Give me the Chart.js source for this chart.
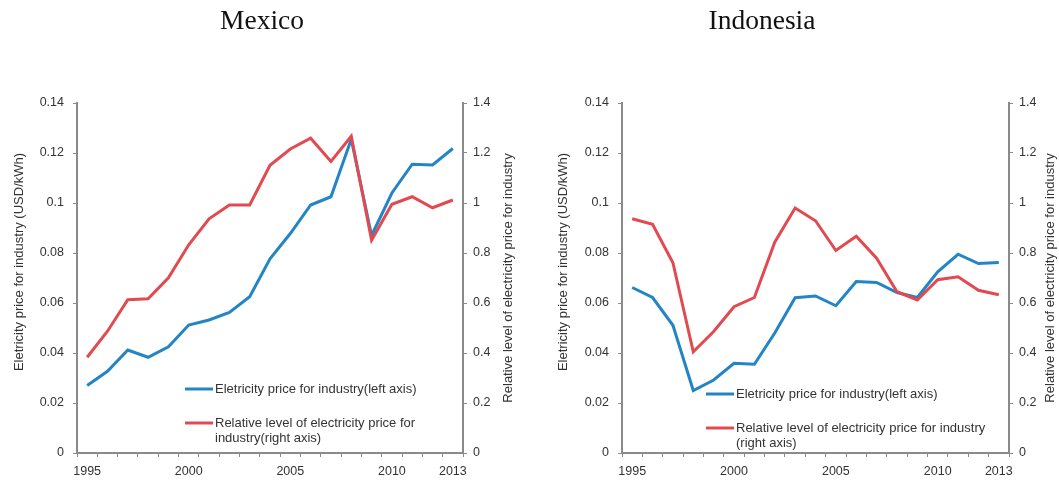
<!DOCTYPE html>
<html>
<head>
<meta charset="utf-8">
<script src="https://cdn.jsdelivr.net/npm/chart.js"></script>
<style>
  body { margin: 0; background: #fff; }
  #wrap { position: relative; width: 1059px; height: 482px; }
  canvas { position: absolute; top: 0; }
</style>
</head>
<body>
<div id="wrap">
  <canvas id="mexico" width="530" height="482" style="left:0"></canvas>
  <canvas id="indonesia" width="529" height="482" style="left:530px"></canvas>
</div>
<script>
const years = ["1995", "1996", "1997", "1998", "1999", "2000", "2001", "2002", "2003", "2004",
  "2005", "2006", "2007", "2008", "2009", "2010", "2011", "2012", "2013"];
const shownYears = ["1995", "2000", "2005", "2010", "2013"];

// USD/kWh (left axis)
const mexicoPrice = [0.027, 0.0327, 0.0412, 0.0383, 0.0425, 0.0512, 0.0532, 0.0562, 0.0625, 0.0777,
  0.0878, 0.0992, 0.1025, 0.1255, 0.087, 0.104, 0.1155, 0.1152, 0.1218];
// relative level (right axis)
const mexicoRelative = [0.383, 0.487, 0.613, 0.617, 0.701, 0.833, 0.937, 0.992, 0.992, 1.151,
  1.216, 1.259, 1.166, 1.267, 0.851, 0.995, 1.025, 0.981, 1.012];

const indonesiaPrice = [0.0662, 0.0622, 0.0511, 0.025, 0.0292, 0.0359, 0.0355, 0.048, 0.0621, 0.0628,
  0.0589, 0.0686, 0.0682, 0.0642, 0.0622, 0.0725, 0.0795, 0.0758, 0.0762];
const indonesiaRelative = [0.937, 0.915, 0.761, 0.405, 0.486, 0.585, 0.622, 0.843, 0.98, 0.929,
  0.81, 0.867, 0.779, 0.645, 0.612, 0.693, 0.705, 0.651, 0.633];

const leftAxisTitle = "Eletricity price for industry (USD/kWh)";
const rightAxisTitle = "Relative level of electricity price for industry";

const BLUE = "#2485c6";
const RED = "#e04a50";
const AXIS = "#8a8a8a";
const TEXT = "#333";

// titles, rotated axis titles and the in-plot legend
const overlay = {
  id: "overlay",
  afterDraw(chart, args, o) {
    const ctx = chart.ctx;
    ctx.save();
    ctx.textBaseline = "middle";
    ctx.textAlign = "center";
    ctx.fillStyle = "#111";
    ctx.font = '27.5px "Liberation Serif"';
    ctx.fillText(o.title, o.titleX, 22);

    ctx.fillStyle = TEXT;
    ctx.font = '13px "Liberation Sans"';
    [[leftAxisTitle, o.leftX, 262], [rightAxisTitle, o.rightX, 278]].forEach(([t, x, y]) => {
      ctx.save();
      ctx.translate(x, y);
      ctx.rotate(-Math.PI / 2);
      ctx.fillText(t, 0, 0);
      ctx.restore();
    });

    ctx.textAlign = "left";
    chart.data.datasets.forEach((ds, i) => {
      const it = o.legend[i];
      ctx.strokeStyle = ds.borderColor;
      ctx.lineWidth = 3;
      ctx.beginPath();
      ctx.moveTo(it.x, it.y);
      ctx.lineTo(it.x + 28, it.y);
      ctx.stroke();
      it.lines.forEach((line, j) => ctx.fillText(line, it.x + 30, it.y + j * 15));
    });
    ctx.restore();
  }
};

function makeChart(id, price, relative, cfg) {
  const font = { family: "Liberation Sans", size: 12.5 };
  return new Chart(document.getElementById(id), {
    type: "line",
    data: {
      labels: years,
      datasets: [
        { data: price, yAxisID: "y", borderColor: BLUE, borderWidth: 3, pointRadius: 0, tension: 0, order: 1 },
        { data: relative, yAxisID: "y1", borderColor: RED, borderWidth: 3, pointRadius: 0, tension: 0, order: 0 }
      ]
    },
    options: {
      responsive: false,
      animation: false,
      layout: { padding: { top: 103, left: 0, right: 0, bottom: 0 } },
      plugins: {
        legend: { display: false },
        tooltip: { enabled: false },
        overlay: cfg
      },
      scales: {
        x: {
          offset: true,
          grid: { offset: true, drawOnChartArea: false, tickLength: 4, color: AXIS, lineWidth: 1 },
          border: { color: AXIS, width: 2 },
          ticks: {
            autoSkip: false, maxRotation: 0, padding: 7, color: TEXT, font,
            callback: (v, i) => shownYears.includes(years[i]) ? years[i] : ""
          },
          afterFit: s => { s.height = 29; }
        },
        y: {
          position: "left", min: 0, max: 0.14,
          grid: { drawOnChartArea: false, tickLength: 4, color: AXIS },
          border: { color: AXIS, width: 2 },
          ticks: { stepSize: 0.02, padding: 9, color: TEXT, font, callback: v => String(+v.toFixed(2)) },
          afterFit: s => { s.width = cfg.leftW; }
        },
        y1: {
          position: "right", min: 0, max: 1.4,
          grid: { drawOnChartArea: false, tickLength: 4, color: AXIS },
          border: { color: AXIS, width: 2 },
          ticks: { stepSize: 0.2, padding: 6, color: TEXT, font, callback: v => String(+v.toFixed(1)) },
          afterFit: s => { s.width = cfg.rightW; }
        }
      }
    },
    plugins: [overlay]
  });
}

makeChart("mexico", mexicoPrice, mexicoRelative, {
  title: "Mexico", titleX: 262, leftX: 19, rightX: 508, leftW: 77, rightW: 67,
  legend: [
    { x: 185, y: 389, lines: ["Eletricity price for industry(left axis)"] },
    { x: 185, y: 423, lines: ["Relative level of electricity price for", "industry(right axis)"] }
  ]
});

makeChart("indonesia", indonesiaPrice, indonesiaRelative, {
  title: "Indonesia", titleX: 232, leftX: 33, rightX: 520, leftW: 92, rightW: 50,
  legend: [
    { x: 176, y: 394, lines: ["Eletricity price for industry(left axis)"] },
    { x: 176, y: 428, lines: ["Relative level of electricity price for industry", "(right axis)"] }
  ]
});
</script>
</body>
</html>
